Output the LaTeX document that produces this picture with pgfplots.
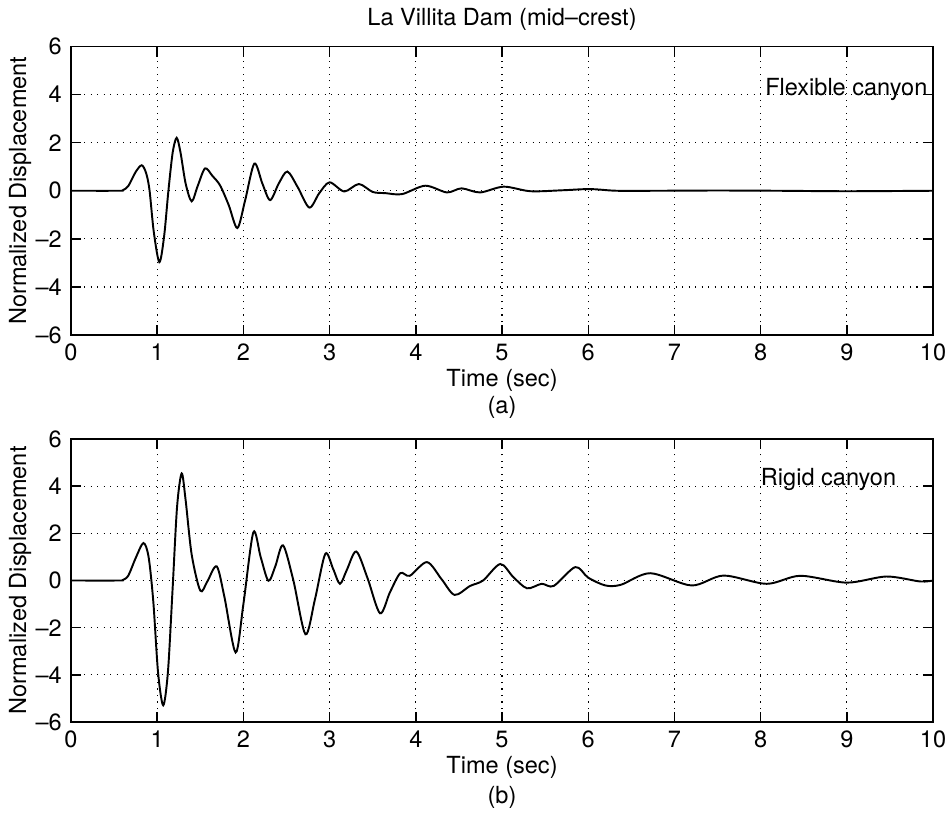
\documentclass[border=0pt]{standalone}
\usepackage{fontspec}
\setmainfont{TeX Gyre Heros}
\usepackage{pgfplots}
\pgfplotsset{compat=1.18}

\pgfplotsset{
  damaxis/.style={
    scale only axis, width=17.24cm,
    xmin=0, xmax=10, ymin=-6, ymax=6,
    xtick={0,1,...,10}, ytick={-6,-4,...,6},
    yticklabels={\textendash6,\textendash4,\textendash2,0,2,4,6},
    /pgf/number format/assume math mode=true,
    tick align=inside, major tick length=0.2cm,
    tick style={black, line width=0.8pt},
    axis line style={line width=0.9pt},
    grid=major,
    major grid style={black, line width=0.7pt, dash pattern=on 0.7pt off 3pt},
    xticklabel style={yshift=-0.02cm},
    yticklabel style={xshift=-0.02cm},
    xlabel={Time (sec)},
    xlabel style={at={(axis description cs:0.5,0)}, anchor=center, yshift=-0.9cm},
    ylabel={Normalized Displacement},
    ylabel style={at={(axis description cs:-0.059,0.5)}, anchor=center},
    clip=false,
  },
  curve/.style={black, line width=1.1pt, smooth, tension=0.5},
}

\begin{document}
\fontsize{13.4}{16}\selectfont
\begin{tikzpicture}
\useasboundingbox (-1.42cm,-9.6cm) rectangle (17.58cm,6.70cm);

% (a) flexible canyon
\begin{axis}[damaxis, height=5.77cm, name=top,
  title={La Villita Dam (mid\textendash crest)},
  title style={at={(axis description cs:0.5,1)}, anchor=center, yshift=0.33cm}]
\addplot[curve] coordinates {
(0,0) (0.55,0) (0.6,0.02) (0.665,0.2) (0.75,0.78) (0.82,1.06) (0.87,0.75)
(0.91,0.05) (0.96,-1.7) (1.025,-2.97) (1.08,-1.9) (1.13,0) (1.18,1.6)
(1.226,2.2) (1.27,1.6) (1.33,0.3) (1.40,-0.44) (1.47,0.2) (1.555,0.93)
(1.64,0.62) (1.73,0.22) (1.83,-0.6) (1.93,-1.55) (2.02,-0.4) (2.127,1.13)
(2.22,0.3) (2.31,-0.39) (2.41,0.3) (2.51,0.8) (2.63,0.15) (2.765,-0.7)
(2.88,-0.1) (3.0,0.35) (3.17,-0.03) (3.34,0.28) (3.5,-0.05) (3.65,-0.1)
(3.84,-0.14) (4.11,0.21) (4.36,-0.07) (4.53,0.1) (4.745,-0.07) (5.02,0.17)
(5.33,-0.02) (5.7,0.02) (6.02,0.07) (6.33,0.0) (6.8,0) (7.5,0.01)
(8.2,0) (9,-0.02) (10,0)
};
\node[anchor=west, inner sep=0pt] at (axis cs:8.05,4.22) {Flexible canyon};
\node at (axis description cs:0.5,0) [yshift=-1.45cm] {(a)};
\end{axis}

% (b) rigid canyon
\begin{axis}[damaxis, height=5.66cm, at={(0,-7.74cm)}, anchor=south west]
\addplot[curve] coordinates {
(0,0) (0.55,0) (0.6,0.02) (0.665,0.21) (0.75,0.95) (0.84,1.59) (0.9,1.0)
(0.955,-0.9) (1.01,-3.9) (1.07,-5.29) (1.125,-3.85) (1.178,-0.4) (1.23,3.1)
(1.284,4.54) (1.33,3.4) (1.40,1.1) (1.50,-0.43) (1.58,-0.05) (1.69,0.6)
(1.78,-0.7) (1.91,-3.05) (2.0,-1.0) (2.115,2.04) (2.2,1.0) (2.29,-0.01)
(2.37,0.6) (2.46,1.49) (2.58,0.0) (2.72,-2.28) (2.83,-0.8) (2.95,1.13)
(3.04,0.5) (3.12,-0.14) (3.2,0.45) (3.31,1.23) (3.44,0.1) (3.585,-1.39)
(3.7,-0.5) (3.82,0.31) (3.93,0.2) (4.13,0.78) (4.3,0.05) (4.45,-0.61)
(4.63,-0.23) (4.78,0) (4.98,0.7) (5.13,0.15) (5.29,-0.33) (5.46,-0.14)
(5.6,-0.23) (5.85,0.57) (6.0,0.12) (6.2,-0.21) (6.38,-0.18) (6.72,0.31)
(7.2,-0.21) (7.57,0.21) (8.07,-0.14) (8.46,0.2) (9.0,-0.09) (9.46,0.17)
(9.85,-0.04) (10,0)
};
\node[anchor=west, inner sep=0pt] at (axis cs:8.0,4.28) {Rigid canyon};
\node at (axis description cs:0.5,0) [yshift=-1.5cm] {(b)};
\end{axis}
\end{tikzpicture}
\end{document}
